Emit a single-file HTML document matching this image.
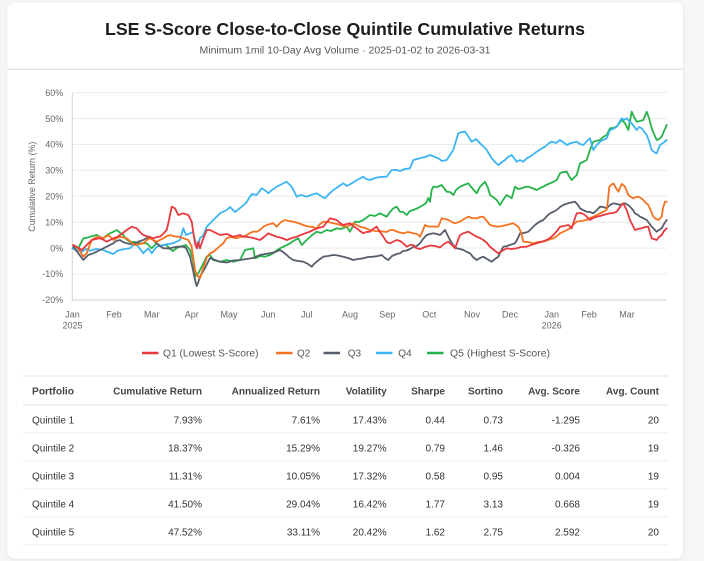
<!DOCTYPE html>
<html>
<head>
<meta charset="utf-8">
<style>
  html, body { margin:0; padding:0; background:#f6f6f7; }
  body { width:704px; height:561px; overflow:hidden; }
  svg { display:block; }
  text { font-family: "Liberation Sans", Arial, sans-serif; }
</style>
</head>
<body>
<svg width="704" height="561" viewBox="0 0 704 561" xmlns="http://www.w3.org/2000/svg">
  <defs>
    <filter id="sh" x="-5%" y="-5%" width="110%" height="110%">
      <feDropShadow dx="0" dy="1" stdDeviation="1.5" flood-color="#000" flood-opacity="0.08"/>
    </filter>
  </defs>
  <!-- card -->
  <rect x="7.3" y="2.7" width="675.7" height="556" rx="8" ry="8" fill="#ffffff" filter="url(#sh)"/>

  <!-- title -->
  <text x="345" y="35" text-anchor="middle" font-size="17.5" font-weight="bold" fill="#1d1d1f" textLength="480" lengthAdjust="spacingAndGlyphs">LSE S-Score Close-to-Close Quintile Cumulative Returns</text>
  <text x="345" y="53.5" text-anchor="middle" font-size="10" fill="#555" textLength="291" lengthAdjust="spacingAndGlyphs">Minimum 1mil 10-Day Avg Volume  ·  2025-01-02 to 2026-03-31</text>
  <line x1="7.3" y1="69.3" x2="683" y2="69.3" stroke="#dedede" stroke-width="1"/>

  <!-- gridlines -->
  <g stroke="#ececec" stroke-width="1">
    <line x1="72.3" y1="92.7" x2="667" y2="92.7"/>
    <line x1="72.3" y1="118.6" x2="667" y2="118.6"/>
    <line x1="72.3" y1="144.5" x2="667" y2="144.5"/>
    <line x1="72.3" y1="170.4" x2="667" y2="170.4"/>
    <line x1="72.3" y1="196.3" x2="667" y2="196.3"/>
    <line x1="72.3" y1="222.2" x2="667" y2="222.2"/>
    <line x1="72.3" y1="248.1" x2="667" y2="248.1"/>
    <line x1="72.3" y1="274" x2="667" y2="274"/>
  </g>
  <line x1="72.3" y1="92.7" x2="72.3" y2="300" stroke="#d4d4d4" stroke-width="1"/>
  <line x1="72.3" y1="300" x2="667" y2="300" stroke="#cfcfcf" stroke-width="1"/>

  <!-- y labels -->
  <g font-size="9" fill="#666" text-anchor="end">
    <text x="63.3" y="95.9">60%</text>
    <text x="63.3" y="121.8">50%</text>
    <text x="63.3" y="147.7">40%</text>
    <text x="63.3" y="173.6">30%</text>
    <text x="63.3" y="199.5">20%</text>
    <text x="63.3" y="225.4">10%</text>
    <text x="63.3" y="251.3">0%</text>
    <text x="63.3" y="277.2">-10%</text>
    <text x="63.3" y="303.2">-20%</text>
  </g>
  <text transform="translate(35,186.7) rotate(-90)" text-anchor="middle" font-size="9" fill="#666" textLength="90" lengthAdjust="spacingAndGlyphs">Cumulative Return (%)</text>

  <!-- x labels -->
  <g font-size="9" fill="#666" text-anchor="middle">
    <text x="72.5" y="317.5">Jan</text>
    <text x="72.5" y="328.5">2025</text>
    <text x="114" y="317.5">Feb</text>
    <text x="151.7" y="317.5">Mar</text>
    <text x="191.7" y="317.5">Apr</text>
    <text x="229" y="317.5">May</text>
    <text x="268.3" y="317.5">Jun</text>
    <text x="306.7" y="317.5">Jul</text>
    <text x="350" y="317.5">Aug</text>
    <text x="387.3" y="317.5">Sep</text>
    <text x="429.3" y="317.5">Oct</text>
    <text x="472" y="317.5">Nov</text>
    <text x="510" y="317.5">Dec</text>
    <text x="551.7" y="317.5">Jan</text>
    <text x="551.7" y="328.5">2026</text>
    <text x="589" y="317.5">Feb</text>
    <text x="627" y="317.5">Mar</text>
  </g>

  <!-- series -->
  <g fill="none" stroke-width="1.8" stroke-linejoin="round" stroke-linecap="round">
    <!-- Q5 green -->
    <polyline stroke="#27b34b" points="73.3,246.7 78.3,248.3 83.3,238.3 86,238 90,236.7 96.7,235 100,237 103.3,238.3 107,235 110,233.3 113,232 116.7,230 120,232.7 123.3,235 126,239 130,241.7 135,242 140,243.3 146.7,243.3 151.7,248.3 156.7,243.3 160,246 163.3,245 166.7,245 170,249 173,251 176.7,248 180,246.7 186,245 190,250 193,260 195,276.7 198.3,273.3 201.7,266.7 206.7,256.7 210,255 213.3,260 220,261.7 226.7,260 233.3,261.7 240,260 245,250 250,249 253.3,248.3 255,258.3 260,256 265,256.7 270,255 273.3,253.3 277,250 280,248.3 285,246 290,243.3 295,240 298.3,238.3 301.7,245 306.7,240 311,236 316.7,231.7 321,233 326.7,230 331,231 336.7,228.3 341,229 346.7,226.7 350,231.7 355,221.7 359,222 363.3,220 366,218 370,215 375,216 380,213.3 386.7,216.7 390,212 393.3,208.3 396.7,206.7 400,211.7 403.3,212 406.7,215 410,211 413.3,210 418,208 423.3,205 426,203 428.3,198 430,201.7 431.7,190 433.3,186.7 437,187 441.7,185 446.7,191.7 450,192 453.3,195 456,190 460,186.7 464,185 468.3,183.3 472,188 476.7,193.3 480,186.7 485,181.7 488,188 490,195 493,197 496.7,200 500,205 503,200 506.7,195 511.7,198.3 515,186.7 518,189 521.7,188.3 525,187 528.3,186.7 532,188 536.7,190 540,188 543.3,186.7 546,185 550,183.3 553,182 556.7,180 560,173.3 563,172 566.7,171.7 569,176 571.7,180 576.7,175 580,163.3 583,162 586.7,160 590,150 593.3,141.7 596,141 600,140 603,137 606.7,135 610,128.3 613,128 616.7,126.7 621.7,120 625,123.3 628.3,130 631.7,111.7 634,117 636.7,121.7 640,121 643.3,120 646.7,111.7 649,118 651.7,128.3 654,134 656.7,140 659,139 661.7,136.7 664,131 666.7,125"/>
    <!-- Q4 blue -->
    <polyline stroke="#3db5f3" points="72.3,248.3 76,250 81.7,251.7 86,249 90,250.7 96,249 103.3,250 108,252 113.3,254 117,251 120,250 125,249 130,248.3 135,243.3 138.3,246.7 143.3,253.3 148.3,248.3 151.7,253.3 156.7,246.7 163.3,245 168,244 173.3,243.3 180,240 183.3,228.3 186,235 190,233.3 193,232 195,240 197.3,248.3 200,238 203,236 206.7,226.7 213.3,220 216.7,216.7 220,213.3 226.7,210 230,207 235,212 241.7,206.7 246,203 251.7,194 256.7,195 261.7,188.3 266,191 268.3,193.3 272,190 276.7,186.7 282,184 286.7,181.7 291.7,186.7 296.7,196.7 301,195 306.7,196.7 311,195 316.7,193.3 321,196 325,198.3 329,194 333.3,190 338,187 343.3,183.3 347,186 351.7,183.3 357,180 363.3,176.7 366,179 370,180 375,178 380,177 386.7,176.7 391.7,170 396.7,170 400,171 405,169 410,168.3 413.3,160 420,158.3 425,157 430,155 435,157 438.3,158.3 442,161 446.7,160 450,155 453.3,150 458.3,133.3 462,132 465,131.7 468,136 471.7,141.7 476,139 480,143.3 484,147 486.7,150 491.7,158.3 495,162 498.3,165 502,162 505,160 508,157 511.7,155 516.7,161.7 520,160 523.3,161.7 527,158 530,156.7 536.7,151.7 541,149 545,146.7 548,144 551.7,141.7 556,143 560,140 563,142 566.7,145 571,143 576.7,141.7 580,144 583.3,145 587,141 590,138.3 593.3,150 596,146 600,141.7 603,140 606.7,138.3 610,130 613,129 616.7,126.7 621.7,118.3 624,120 626.7,118.3 629,121 631.7,123.3 636.7,130 639,127 641.7,128.3 646.7,135 649,141 651.7,150 654,152 656.7,153.3 660,145 663,143 666.7,140"/>
    <!-- Q3 gray -->
    <polyline stroke="#565d6b" points="73.3,246.7 78.3,253.3 83.3,260 88.3,255 93.3,253.3 100,250 106.7,246.7 113.3,243.3 116,241 120,240 123,242 126.7,243.3 131,244 135,243.3 140,241 143.3,240 147,238 150,236.7 153,240 156.7,243.3 160,246 163.3,248.3 170,248.3 176.7,246.7 183.3,246.7 186,248 190,256.7 193,270 195,280 196.7,286 198,283 200,276.7 205,268 210,258 215,260 220,261.7 226.7,262.5 233.3,260.5 240,260 246.7,259 253,258 260,255 265,254 270,253.3 275,252 280,250 283,252 286.7,255 290,258 293.3,260 298,261 303.3,261.7 308,264 311.7,266.7 314,264 316.7,261.7 320,259 323.3,256.7 328,256 333.3,255 338,255.5 343.3,256.7 348,258 353.3,260 358,259 363.3,258.3 368,257 373.3,256.7 378,256 381.7,255 385,258 388.3,260 392,256 396.7,254 400,253.3 403,251 406.7,250.5 410,249 413.3,247 416.7,246 420,243.3 423,239 426.7,235 430,234 433.3,233.3 437,234 440,235 445,230 450,240 453,245 456.7,248.3 460,249 463.3,250 467,252 470,253.3 473,257 476.7,260 480,258 483.3,256.7 487,259 491.7,261.7 495,259 498.3,256.7 501,251 503.3,246.7 507,246 510,245 515,243.3 518,238 520,233.3 524,233 528.3,231.7 532,228 535,225 539,222 543.3,220 547,216 550,213.3 553,212 556.7,210 560,207 563.3,205 566,204 570,202.7 575,201.7 578,205 580,208.3 583,210 586.7,211.7 590,212 593.3,213.3 597,210 600,206.7 603,207 606.7,208.3 610,205 613.3,203.3 617,204 620,205 622,204 625,203.3 628,205 630,206.7 633,210 635,213.3 638,215 640,216.7 643,218 646.7,220 649,223 651.7,226.7 654,229 656.7,231.7 659,230 661.7,228.3 664,224 666.7,220"/>
    <!-- Q2 orange -->
    <polyline stroke="#f47321" points="73.3,245 78,248 83.3,256.7 86.7,253.3 91.7,240 95,238 98.3,236.7 103.3,238.3 108.3,235 113.3,240 117,238 120,236.7 126.7,238.3 131,242 135,245 140,244 143.3,243.3 147,240 150,238.3 153,240 156.7,241.7 160,240 163.3,238.3 167,236 170,235 173,236 176.7,236.7 180,237 183.3,238.3 188.3,240 191.7,246.7 195,270 197,275 200,278.3 202,272 205,263 207,257 210,253.3 213,252 216.7,249 220,246 223.3,243.3 226.7,238.3 230,237 236.7,238.3 240,237 243.3,236.7 246.7,235 250,233 253.3,231.7 256.7,231.7 260,230 263,227 266.7,225 270,224 273.3,223.3 276.7,226.7 281,222 285,220 289,221 293.3,221.7 298,223 303.3,225 306,226 310,226.7 313,227 316.7,228.3 320,224 323.3,221.7 328,222 333.3,223.3 337,224 340,225 343.3,226 346.7,226.7 350,225 353.3,223.3 356.7,225 360,226.7 365,228 370,230 375,231 380,231.2 386.7,232 390,230 393.3,230 398,232 403.3,233.3 408,232 413.3,233.3 417,234 420,236.7 423,230 425,225 427,226 430,226.7 434,226.5 438.3,226.7 441.7,218.3 445,219 448.3,220 452,222 455,223.3 460,221.7 464,219 468.3,216.7 472,218 476.7,218.3 480,217 483.3,216.7 486,220 490,225 494,226 498.3,226.7 502,226 506.7,225 510,224 513.3,223.3 518.3,226.7 521,232 523.3,241.7 528,242 533.3,243.3 538,242 543.3,241.7 548,240 553.3,238.3 557,236 560,233.3 565,231 570,228.3 573,225 576.7,221.7 581,221 586.7,220 590,218 593.3,216.7 597,215 600,213.3 603,212 606.7,210 608,200 609.3,186.7 611,185 613.3,183.3 616,188 618.3,191.7 621.7,184 625,186.7 628.3,195 631,197 633.3,198.3 636,197 638.3,196.7 641,198 643.3,200 646,203 648.3,205 651,211 653.3,216.7 656,219 658.3,220 661.7,216.7 663,208 665,201.7 666.7,201.7"/>
    <!-- Q1 red -->
    <polyline stroke="#e8393f" points="73.3,245 77,247 81.7,250 86.7,245 91.7,240 96,239 100,238.3 104,240 106.7,241.7 110,240 113.3,238.3 117,237 120,235 123,233 126.7,230 131.7,226.7 136.7,228.3 140,232 143.3,235 148.3,236.7 153.3,238.3 157,237 160,236.7 163,234 166.7,230 169,220 171.7,206.7 175,208.3 178.3,215 183.3,213.3 188.3,215 191.7,221.7 195,243.3 196.7,248.3 198.3,241.7 200,248.3 202.7,240 206.7,230 210,230 213.3,231.7 216.7,233.3 220,235 226.7,234 233.3,236.7 240,235 243.3,236.7 246.7,236.7 253.3,238 260,240 264,237 268.3,233.3 272,235 276.7,236.7 282,238 286.7,240 292,238 296.7,236.7 301,235 305,233.3 309,232 313.3,230 318,228 323.3,226.7 327,222 330,218.3 333,219 336.7,220 340,223 343.3,225 347,224 350,223.3 353,226 356.7,228.3 360,231 363.3,233.3 366,232 370,231.7 373,229 376.7,226.7 380,232 383.3,236.7 386.7,242 390,243.3 396.7,240 400,241 403,243 406.7,246.7 410,245 413.3,245 416,248 420,249 425,247 430,245.5 435,246 440,247.5 444,244 448.3,241.7 452,245 455,248.3 460,235 464,233 468.3,231.7 472,234 476.7,236.7 480,238 483.3,240 487,243 490,246.7 494,250 498.3,253.3 502,251 506.7,248.3 511,249 516.7,248.3 521,247 526.7,246.7 531,245 536.7,243.3 541,242 546.7,240 550,238 553.3,235 557,231 560,226.7 564,226 568.3,225 571.7,228.3 574,221 576.7,213.3 581,213 585,215 590,220 593,218 596.7,216.7 600,216 603.3,215 607,214 610,213.3 613,213 616.7,211.7 620,207 623.3,203.3 626.7,210 630,220 633,226 635,230 638,229 641.7,228.3 645,227 648.3,226.7 651.7,238.3 654,239 656.7,240 659,237 661.7,235 664,231 666.7,228.3"/>
  </g>

  <!-- legend -->
  <g stroke-width="2.4">
    <line x1="142" y1="353" x2="158.5" y2="353" stroke="#e8393f"/>
    <line x1="276" y1="353" x2="292.5" y2="353" stroke="#f47321"/>
    <line x1="323.5" y1="353" x2="340" y2="353" stroke="#565d6b"/>
    <line x1="376" y1="353" x2="392.5" y2="353" stroke="#3db5f3"/>
    <line x1="427" y1="353" x2="443.5" y2="353" stroke="#27b34b"/>
  </g>
  <g font-size="10" fill="#555">
    <text x="163" y="356.5" textLength="95.5" lengthAdjust="spacingAndGlyphs">Q1 (Lowest S-Score)</text>
    <text x="297" y="356.5">Q2</text>
    <text x="347.7" y="356.5">Q3</text>
    <text x="398.3" y="356.5">Q4</text>
    <text x="450" y="356.5" textLength="100" lengthAdjust="spacingAndGlyphs">Q5 (Highest S-Score)</text>
  </g>

  <!-- table lines -->
  <line x1="23" y1="376" x2="668" y2="376" stroke="#e3e3e3"/>
  <line x1="23" y1="405" x2="668" y2="405" stroke="#dcdcdc"/>
  <g stroke="#ececec">
    <line x1="23" y1="433" x2="668" y2="433"/>
    <line x1="23" y1="461" x2="668" y2="461"/>
    <line x1="23" y1="489" x2="668" y2="489"/>
    <line x1="23" y1="517" x2="668" y2="517"/>
    <line x1="23" y1="545" x2="668" y2="545"/>
  </g>

  <!-- table header -->
  <g font-size="10" font-weight="bold" fill="#444">
    <text x="32" y="394.3" textLength="42" lengthAdjust="spacingAndGlyphs">Portfolio</text>
    <text x="202" y="394.3" text-anchor="end">Cumulative Return</text>
    <text x="320" y="394.3" text-anchor="end">Annualized Return</text>
    <text x="386.7" y="394.3" text-anchor="end">Volatility</text>
    <text x="445" y="394.3" text-anchor="end">Sharpe</text>
    <text x="503" y="394.3" text-anchor="end">Sortino</text>
    <text x="580" y="394.3" text-anchor="end">Avg. Score</text>
    <text x="659" y="394.3" text-anchor="end">Avg. Count</text>
  </g>

  <!-- table rows -->
  <g font-size="10" fill="#333">
    <text x="32" y="423.6">Quintile 1</text>
    <text x="202" y="423.6" text-anchor="end">7.93%</text>
    <text x="320" y="423.6" text-anchor="end">7.61%</text>
    <text x="386.7" y="423.6" text-anchor="end">17.43%</text>
    <text x="445" y="423.6" text-anchor="end">0.44</text>
    <text x="503" y="423.6" text-anchor="end">0.73</text>
    <text x="580" y="423.6" text-anchor="end">-1.295</text>
    <text x="659" y="423.6" text-anchor="end">20</text>

    <text x="32" y="451.6">Quintile 2</text>
    <text x="202" y="451.6" text-anchor="end">18.37%</text>
    <text x="320" y="451.6" text-anchor="end">15.29%</text>
    <text x="386.7" y="451.6" text-anchor="end">19.27%</text>
    <text x="445" y="451.6" text-anchor="end">0.79</text>
    <text x="503" y="451.6" text-anchor="end">1.46</text>
    <text x="580" y="451.6" text-anchor="end">-0.326</text>
    <text x="659" y="451.6" text-anchor="end">19</text>

    <text x="32" y="479.6">Quintile 3</text>
    <text x="202" y="479.6" text-anchor="end">11.31%</text>
    <text x="320" y="479.6" text-anchor="end">10.05%</text>
    <text x="386.7" y="479.6" text-anchor="end">17.32%</text>
    <text x="445" y="479.6" text-anchor="end">0.58</text>
    <text x="503" y="479.6" text-anchor="end">0.95</text>
    <text x="580" y="479.6" text-anchor="end">0.004</text>
    <text x="659" y="479.6" text-anchor="end">19</text>

    <text x="32" y="507.6">Quintile 4</text>
    <text x="202" y="507.6" text-anchor="end">41.50%</text>
    <text x="320" y="507.6" text-anchor="end">29.04%</text>
    <text x="386.7" y="507.6" text-anchor="end">16.42%</text>
    <text x="445" y="507.6" text-anchor="end">1.77</text>
    <text x="503" y="507.6" text-anchor="end">3.13</text>
    <text x="580" y="507.6" text-anchor="end">0.668</text>
    <text x="659" y="507.6" text-anchor="end">19</text>

    <text x="32" y="535.6">Quintile 5</text>
    <text x="202" y="535.6" text-anchor="end">47.52%</text>
    <text x="320" y="535.6" text-anchor="end">33.11%</text>
    <text x="386.7" y="535.6" text-anchor="end">20.42%</text>
    <text x="445" y="535.6" text-anchor="end">1.62</text>
    <text x="503" y="535.6" text-anchor="end">2.75</text>
    <text x="580" y="535.6" text-anchor="end">2.592</text>
    <text x="659" y="535.6" text-anchor="end">20</text>
  </g>
</svg>
</body>
</html>
